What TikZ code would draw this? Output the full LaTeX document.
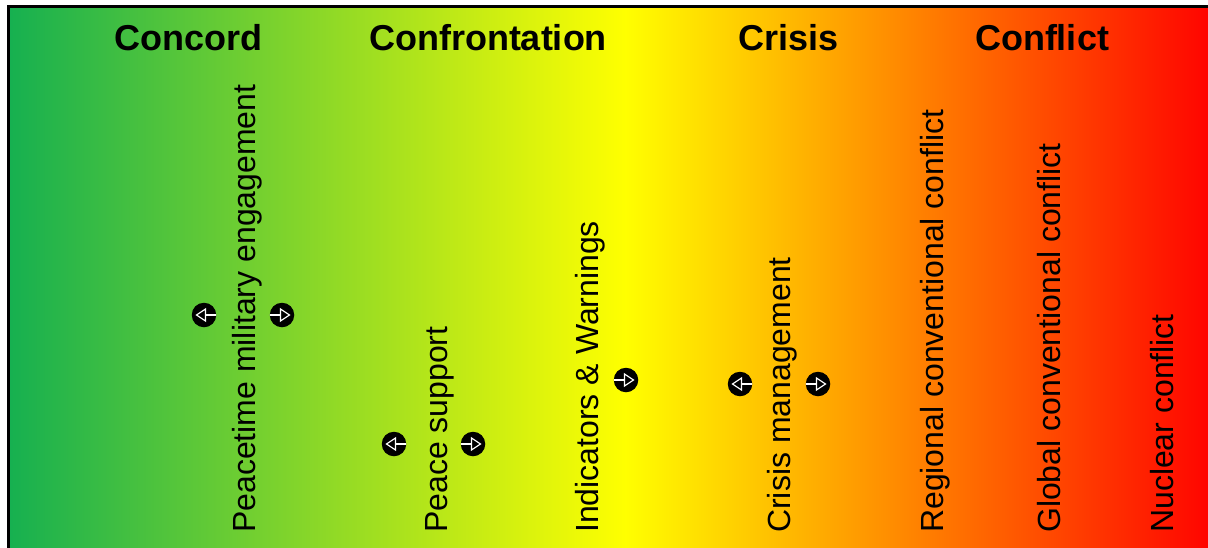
\documentclass[tikz,border=0pt]{standalone}
\usepackage{fontspec}
\setmainfont{Liberation Sans}
\definecolor{cgreen}{RGB}{22,176,80}
\definecolor{cyellow}{RGB}{255,255,0}
\definecolor{cred}{RGB}{255,0,0}
\tikzset{
  title/.style={anchor=base, inner sep=0pt, font=\fontsize{36}{40}\selectfont\bfseries},
  vlabel/.style={rotate=90, anchor=base west, inner sep=0pt, font=\fontsize{32}{36}\selectfont},
  arrowdisk/.style={circle, fill=black, minimum size=24.5pt, inner sep=0pt},
  arrL/.style={arrowdisk, path picture={
      \begin{scope}[shift={(path picture bounding box.center)}]
        \draw[white, line width=1.8pt] (14,0) -- (0,0);
        \draw[white, line width=1.2pt, fill=black, line join=miter] (1.5,6) -- (-7.5,0) -- (1.5,-6) -- cycle;
      \end{scope}}},
  arrR/.style={arrowdisk, path picture={
      \begin{scope}[shift={(path picture bounding box.center)}]
        \draw[white, line width=1.8pt] (-14,0) -- (0,0);
        \draw[white, line width=1.2pt, fill=black, line join=miter] (-1.5,6) -- (7.5,0) -- (-1.5,-6) -- cycle;
      \end{scope}}},
}
\begin{document}
\begin{tikzpicture}[x=1pt,y=1pt]
\useasboundingbox (0,0) rectangle (1208,-547);
% background gradient
\shade[left color=cgreen, right color=cyellow] (9,-7) rectangle (625.5,-560);
\shade[left color=cyellow, right color=cred] (625,-7) rectangle (1220,-560);
% frame
\draw[line width=3pt] (8.5,-560) -- (8.5,-6.5) -- (1220,-6.5);
% titles
\node[title] (concord) at (188.5,-50) {Concord};
\node[title] (confrontation) at (488,-50) {Confrontation};
\node[title] (crisis) at (788.5,-50) {Crisis};
\node[title] (conflict) at (1042,-50) {Conflict};
% vertical labels
\node[vlabel] (pme) at (255,-533) {Peacetime military engagement};
\node[vlabel] (ps) at (447,-533) {Peace support};
\node[vlabel] (iw) at (598,-533) {Indicators \& Warnings};
\node[vlabel] (cm) at (790,-533) {Crisis management};
\node[vlabel] (rcc) at (943,-533) {Regional conventional conflict};
\node[vlabel] (gcc) at (1060,-533) {Global conventional conflict};
\node[vlabel] (nc) at (1173,-533) {Nuclear conflict};
% arrow symbols
\node[arrL] (pmeL) at (204,-315) {};
\node[arrR] (pmeR) at (282,-315) {};
\node[arrL] (psL) at (394,-444) {};
\node[arrR] (psR) at (473,-444) {};
\node[arrR] (iwR) at (626,-380) {};
\node[arrL] (cmL) at (740,-384) {};
\node[arrR] (cmR) at (818,-384) {};
\end{tikzpicture}
\end{document}
